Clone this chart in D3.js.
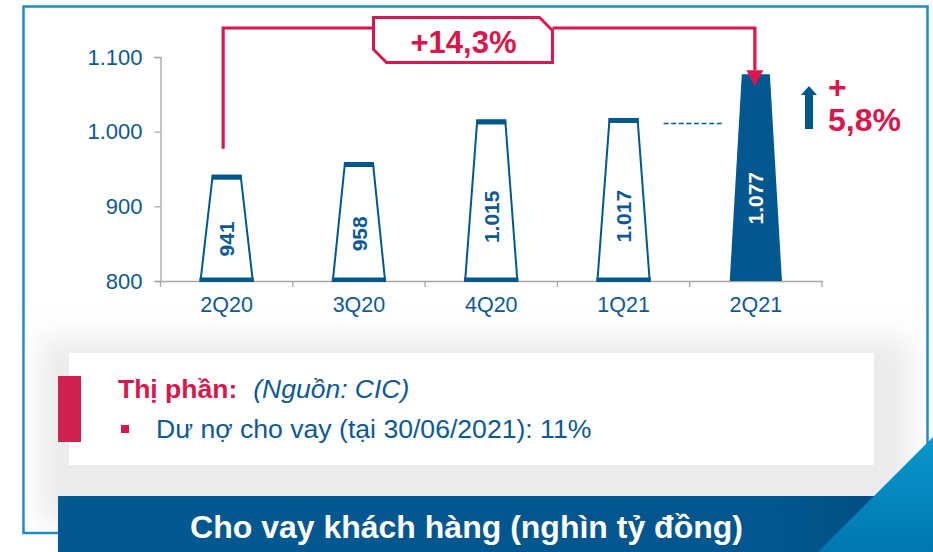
<!DOCTYPE html>
<html>
<head>
<meta charset="utf-8">
<script src="https://cdn.jsdelivr.net/npm/d3@7"></script>
<style>
  html, body { margin: 0; padding: 0; background: #ffffff; }
  svg { display: block; font-family: "Liberation Sans", Arial, sans-serif; }
</style>
</head>
<body>
<svg id="chart" width="933" height="552"></svg>
<script>
// ---------- data ----------
const categories = ["2Q20", "3Q20", "4Q20", "1Q21", "2Q21"];
const values = [941, 958, 1015, 1017, 1077];
const highlighted = [false, false, false, false, true];
const yTicks = [800, 900, 1000, 1100];
const yDomain = [800, 1100];
const yoyLabel = "+14,3%";
const qoqLabels = ["+", "5,8%"];
const noteTitle = "Thị phần:";
const noteSource = "(Nguồn: CIC)";
const noteItems = ["Dư nợ cho vay (tại 30/06/2021): 11%"];
const chartTitle = "Cho vay khách hàng (nghìn tỷ đồng)";

// ---------- styles ----------
const W = 933, H = 552;
const BLUE = "#03578f";
const TEXT_BLUE = "#0d5993";
const RED = "#d8174c";
const BORDER = "#1c8cc6";
const AXIS = "#a6a6a6";

const vn = d3.formatLocale({ decimal: ",", thousands: ".", grouping: [3], currency: ["", ""] });
const fmt = vn.format(",d");

const svg = d3.select("#chart");
const defs = svg.append("defs");

defs.append("filter").attr("id", "blur").attr("x", "-20%").attr("y", "-40%").attr("width", "140%").attr("height", "180%")
  .append("feGaussianBlur").attr("stdDeviation", 14);
defs.append("clipPath").attr("id", "inner")
  .append("rect").attr("x", 24).attr("y", 7).attr("width", 903).attr("height", 525);

const triGrad = defs.append("linearGradient").attr("id", "triGrad").attr("x1", 0).attr("y1", 0).attr("x2", 0).attr("y2", 1);
triGrad.append("stop").attr("offset", "0%").attr("stop-color", "#0a98cd");
triGrad.append("stop").attr("offset", "100%").attr("stop-color", "#0077b1");

const banGrad = defs.append("linearGradient").attr("id", "banGrad").attr("x1", 0).attr("y1", 0).attr("x2", 1).attr("y2", 0);
banGrad.append("stop").attr("offset", "0%").attr("stop-color", "#02588f");
banGrad.append("stop").attr("offset", "85%").attr("stop-color", "#02568d");
banGrad.append("stop").attr("offset", "100%").attr("stop-color", "#004a80");

// outer border
svg.append("rect").attr("x", 23.5).attr("y", 6.5).attr("width", 904).attr("height", 526.5)
  .attr("fill", "#ffffff").attr("stroke", BORDER).attr("stroke-width", 2.5);

// grey shadow band behind note box
const shadow = svg.append("g").attr("clip-path", "url(#inner)");
shadow.append("rect").attr("x", 40).attr("y", 338).attr("width", 870).attr("height", 185)
  .attr("fill", "#ebebeb").attr("filter", "url(#blur)");

// ---------- scales ----------
const x = d3.scaleBand().domain(categories).range([160.5, 822]).padding(0);
const y = d3.scaleLinear().domain(yDomain).range([281, 57]);
const bw = x.bandwidth();
const botW = bw * 0.395, topW = bw * 0.212;

// ---------- axes ----------
const yAxis = svg.append("g").attr("transform", "translate(160.5,0)")
  .call(d3.axisLeft(y).tickValues(yTicks).tickFormat(fmt).tickSize(6).tickPadding(12));
yAxis.select(".domain").attr("stroke", AXIS).attr("stroke-width", 1.3);
yAxis.selectAll(".tick line").attr("stroke", AXIS).attr("stroke-width", 1.3);
yAxis.selectAll(".tick text").attr("fill", TEXT_BLUE).attr("font-size", 22)
  .attr("font-family", "Liberation Sans, Arial, sans-serif");

const xAxis = svg.append("g").attr("transform", "translate(0,281)")
  .call(d3.axisBottom(x).tickSize(0).tickPadding(16).tickSizeOuter(0));
xAxis.select(".domain").attr("stroke", AXIS).attr("stroke-width", 1.3);
xAxis.selectAll(".tick text").attr("fill", TEXT_BLUE).attr("font-size", 21.5)
  .attr("font-family", "Liberation Sans, Arial, sans-serif");
const bounds = categories.map(c => x(c)).concat([x(categories[categories.length - 1]) + bw]);
svg.append("g").selectAll("line").data(bounds).join("line")
  .attr("x1", d => d).attr("x2", d => d).attr("y1", 281).attr("y2", 287)
  .attr("stroke", AXIS).attr("stroke-width", 1.3);

// ---------- bars ----------
const bars = svg.append("g");
const data = categories.map((c, i) => ({ c, v: values[i], hi: highlighted[i] }));
const trap = d => {
  const cx = x(d.c) + bw / 2, y0 = y(yDomain[0]), y1 = y(d.v);
  return `M${cx - botW / 2},${y0} L${cx - topW / 2},${y1} L${cx + topW / 2},${y1} L${cx + botW / 2},${y0} Z`;
};
bars.selectAll("path.bar").data(data).join("path").attr("class", "bar")
  .attr("d", trap)
  .attr("fill", d => d.hi ? BLUE : "#ffffff")
  .attr("stroke", BLUE).attr("stroke-width", d => d.hi ? 0 : 2).attr("stroke-linejoin", "miter");
bars.selectAll("rect.cap").data(data.filter(d => !d.hi)).join("rect").attr("class", "cap")
  .attr("x", d => x(d.c) + bw / 2 - topW / 2 - 1).attr("y", d => y(d.v) - 1)
  .attr("width", topW + 2).attr("height", 5).attr("fill", BLUE);
bars.selectAll("rect.base").data(data.filter(d => !d.hi)).join("rect").attr("class", "base")
  .attr("x", d => x(d.c) + bw / 2 - botW / 2 - 1).attr("y", y(yDomain[0]) - 3.5)
  .attr("width", botW + 2).attr("height", 3.5).attr("fill", BLUE);
bars.selectAll("text.val").data(data).join("text").attr("class", "val")
  .attr("transform", d => {
    const cx = x(d.c) + bw / 2;
    const cy = y(yDomain[0]) - 0.4 * (y(yDomain[0]) - y(d.v));
    return `translate(${cx},${cy}) rotate(-90)`;
  })
  .attr("text-anchor", "middle").attr("dy", "0.36em")
  .attr("font-size", 21).attr("font-weight", "bold")
  .attr("fill", d => d.hi ? "#ffffff" : TEXT_BLUE)
  .text(d => fmt(d.v));

// dashed reference at previous quarter level
const last = data[data.length - 1], prev = data[data.length - 2];
svg.append("line")
  .attr("x1", x(prev.c) + bw / 2 + 40).attr("x2", x(last.c) + bw / 2 - 32)
  .attr("y1", y(prev.v) + 4.5).attr("y2", y(prev.v) + 4.5)
  .attr("stroke", BLUE).attr("stroke-width", 1.6).attr("stroke-dasharray", "5,2.6");

// ---------- YoY bracket ----------
const first = data[0];
const xa = x(first.c) + bw / 2 - 3.5, xb = x(last.c) + bw / 2 - 1;
const yLine = 28;
const boxL = 373.5, boxR = 552.5, boxT = 17.5, boxB = 62.5;
const red = svg.append("g");
red.append("path")
  .attr("d", `M${xa},${y(first.v) - 27} L${xa},${yLine} L${boxL},${yLine} M${boxR},${yLine} L${xb},${yLine} L${xb},${y(last.v) - 4}`)
  .attr("fill", "none").attr("stroke", RED).attr("stroke-width", 3.2);
red.append("path")
  .attr("d", `M${xb - 8.5},${y(last.v) - 4} L${xb + 8.5},${y(last.v) - 4} L${xb},${y(last.v) + 12} Z`)
  .attr("fill", RED);
red.append("path")
  .attr("d", `M${boxL},${boxT} L${boxR - 13},${boxT} L${boxR},${boxT + 13} L${boxR},${boxB} L${boxL + 13},${boxB} L${boxL},${boxB - 13} Z`)
  .attr("fill", "#ffffff").attr("stroke", RED).attr("stroke-width", 3);
red.append("text").attr("x", (boxL + boxR) / 2 + 0.5).attr("y", 52.5)
  .attr("text-anchor", "middle").attr("font-size", 31).attr("font-weight", "bold").attr("fill", RED)
  .text(yoyLabel);

// ---------- QoQ arrow + label ----------
const ax = 809;
svg.append("path")
  .attr("d", `M${ax},86 L${ax + 8},95 L${ax + 4},95 L${ax + 4},129 L${ax - 4},129 L${ax - 4},95 L${ax - 8},95 Z`)
  .attr("fill", BLUE);
svg.append("text").attr("x", 828).attr("y", 98).attr("font-size", 32).attr("font-weight", "bold")
  .attr("fill", RED).text(qoqLabels[0]);
svg.append("text").attr("x", 828).attr("y", 131).attr("font-size", 32).attr("font-weight", "bold")
  .attr("fill", RED).text(qoqLabels[1]);

// ---------- note box ----------
svg.append("rect").attr("x", 69).attr("y", 353).attr("width", 805).attr("height", 112).attr("fill", "#ffffff");
svg.append("rect").attr("x", 58).attr("y", 376).attr("width", 23).attr("height", 66).attr("fill", "#cf234f");
const note = svg.append("text").attr("x", 118).attr("y", 398).attr("font-size", 26.5);
note.append("tspan").attr("font-weight", "bold").attr("fill", RED).text(noteTitle);
note.append("tspan").attr("dx", 16).attr("font-style", "italic").attr("fill", TEXT_BLUE).text(noteSource);
svg.append("g").selectAll("rect").data(noteItems).join("rect")
  .attr("x", 121).attr("y", (d, i) => 425 + i * 32).attr("width", 8).attr("height", 8).attr("fill", RED);
svg.append("g").selectAll("text").data(noteItems).join("text")
  .attr("x", 156).attr("y", (d, i) => 438 + i * 32).attr("font-size", 26.6).attr("fill", TEXT_BLUE)
  .text(d => d);

// ---------- title banner ----------
svg.append("rect").attr("x", 58).attr("y", 496).attr("width", 860).attr("height", 56).attr("fill", "url(#banGrad)");
svg.append("path").attr("d", `M${W},437 L${W},${H} L818,${H} Z`).attr("fill", "url(#triGrad)");
svg.append("text").attr("x", 466.5).attr("y", 538).attr("text-anchor", "middle")
  .attr("font-size", 32).attr("font-weight", "bold").attr("fill", "#ffffff").text(chartTitle);
</script>
</body>
</html>
